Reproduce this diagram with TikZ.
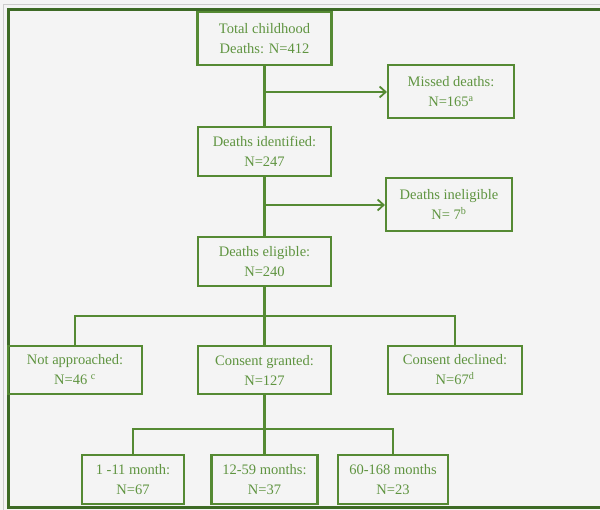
\documentclass[tikz,border=0pt]{standalone}
\usepackage{fontspec}
\setmainfont{Liberation Serif}
\usepackage{xcolor}
\usepackage{tikz}
\usetikzlibrary{arrows.meta}

\definecolor{boxgreen}{HTML}{558A33}
\definecolor{textgreen}{HTML}{5F9440}
\definecolor{framegreen}{HTML}{3D6A25}
\definecolor{paper}{HTML}{F4F4F4}

\begin{document}
\begin{tikzpicture}[x=1pt, y=1pt,
    box/.style={draw=boxgreen, line width=2.1pt, text=textgreen, align=center, inner sep=0pt,
        font=\fontsize{14.5}{20}\selectfont},
    link/.style={draw=boxgreen, line width=2.1pt},
    >={Straight Barb[length=6pt, width=11pt, line width=1.8pt]}]
    \useasboundingbox (0, 0) rectangle (600, -510);
    \fill[paper] (0, 0) rectangle (600, -510);
    \draw[gray!40, line width=1pt] (3, -512) |- (602, -5);
    \draw[framegreen, line width=3pt] (8, -507) rectangle (606, -10);

    \node[box, minimum width=134, minimum height=53] at (264.5, -38.5) (0) {Total childhood\\Deaths: N=412};
    \node[box, minimum width=126, minimum height=53] at (451, -91.5) (0a) {Missed deaths:\\N=165\textsuperscript{a}};
    \node[box, minimum width=133, minimum height=49] at (264.5, -151.5) (1) {Deaths identified:\\N=247};
    \node[box, minimum width=126, minimum height=53] at (449, -204.5) (1a) {Deaths ineligible\\N= 7\textsuperscript{b}};
    \node[box, minimum width=133, minimum height=49] at (264.5, -261.5) (2) {Deaths eligible:\\N=240};

    \node[box, minimum width=134, minimum height=48] at (75, -370) (3l) {Not approached:\\N=46 \textsuperscript{c}};
    \node[box, minimum width=133, minimum height=48] at (264.5, -370) (3) {Consent granted:\\N=127};
    \node[box, minimum width=134, minimum height=48] at (455, -370) (3r) {Consent declined:\\N=67\textsuperscript{d}};

    \node[box, minimum width=102, minimum height=49] at (133, -479.5) (4l) {1 -11 month:\\N=67};
    \node[box, minimum width=106, minimum height=49] at (264.5, -479.5) (4) {12-59 months:\\N=37};
    \node[box, minimum width=110, minimum height=49] at (393, -479.5) (4r) {60-168 months\\N=23};

    \coordinate (j0) at (264.5, -92);
    \coordinate (j1) at (264.5, -205);
    \coordinate (b2) at (264.5, -316);
    \coordinate (b3) at (264.5, -429);

    \draw[link] (0) -- (1); \draw[link] (1) -- (2);
    \draw[link, ->] (j0) -- (j0 -| 0a.west);
    \draw[link, ->] (j1) -- (j1 -| 1a.west);

    \draw[link] (2) -- (3); \draw[link] (3l) |- (b2) -| (3r);
    \draw[link] (3) -- (4); \draw[link] (4l) |- (b3) -| (4r);
\end{tikzpicture}
\end{document}
